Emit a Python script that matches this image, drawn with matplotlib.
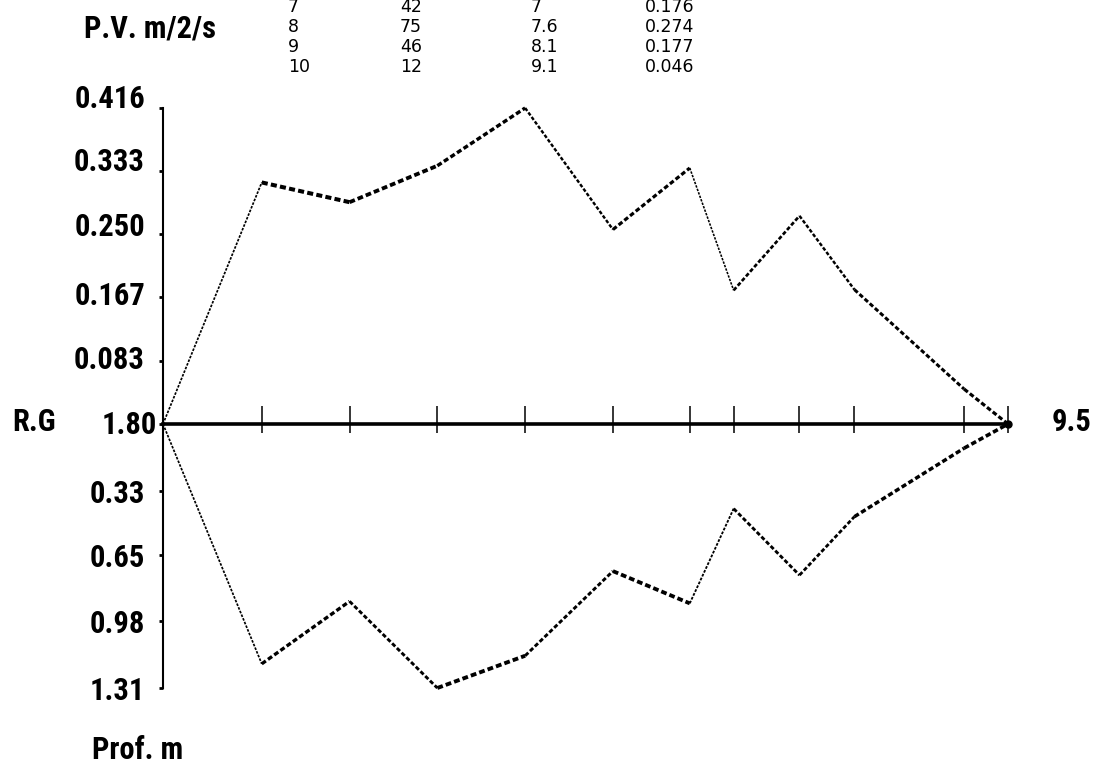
import numpy as np
import matplotlib
matplotlib.use("Agg")
import matplotlib.pyplot as plt
from matplotlib import font_manager
from matplotlib.transforms import ScaledTranslation

# ---------------- data ----------------
depth = [1.8, 2.7, 3.5, 4.3, 5.1, 5.9, 6.6, 7.0, 7.6, 8.1, 9.1, 9.5]
pv = [0.0, 0.318, 0.292, 0.340, 0.416, 0.256, 0.337, 0.176, 0.274, 0.177, 0.046, 0.0]
rg = [0, 119, 88, 131, 115, 73, 89, 42, 75, 46, 12, 0]

pv_ticks = [0.0, 0.083, 0.167, 0.250, 0.333, 0.416]
pv_ticklabels = ["1.80", "0.083", "0.167", "0.250", "0.333", "0.416"]
rg_ticks = [0.33, 0.65, 0.98, 1.31]
rg_ticklabels = ["0.33", "0.65", "0.98", "1.31"]

tbl_idx = ["7", "8", "9", "10"]
tbl_n = ["42", "75", "46", "12"]
tbl_depth = ["7", "7.6", "8.1", "9.1"]
tbl_pv = ["0.176", "0.274", "0.177", "0.046"]

# ---------------- style ----------------
W, H = 1103, 767
names = {f.name for f in font_manager.fontManager.ttflist}
bold_font = [n for n in ["Liberation Sans Narrow", "Roboto Condensed", "DejaVu Sans Mono"] if n in names] + ["DejaVu Sans"]
small_font = ["DejaVu Sans"]
BIG = 22

fig = plt.figure(figsize=(W / 100, H / 100), dpi=100)
fig.patch.set_facecolor("white")


def rect(x0, y0, x1, y1):
    return [x0 / W, 1 - y1 / H, (x1 - x0) / W, (y1 - y0) / H]


ax_top = fig.add_axes(rect(163, 108, 1008, 424))
ax_bot = fig.add_axes(rect(163, 424, 1008, 688))
for ax in (ax_top, ax_bot):
    ax.set_xlim(depth[0], depth[-1])
    ax.set_facecolor("none")
    for s in ("top", "right", "bottom"):
        ax.spines[s].set_visible(False)
    ax.spines["left"].set_linewidth(1.5)
ax_top.set_ylim(0, max(pv_ticks))
ax_bot.set_ylim(max(rg_ticks), 0)

# x axis line (thick)
ax_top.spines["bottom"].set_visible(True)
ax_top.spines["bottom"].set_linewidth(2.6)

# x ticks (above/below)
ax_top.set_xticks(depth[1:])
ax_top.tick_params(axis="x", direction="in", length=13, width=1.1, labelbottom=False)
ax_bot.xaxis.set_ticks_position("top")
ax_bot.set_xticks(depth[1:])
ax_bot.tick_params(axis="x", direction="in", length=6.5, width=1.1, labeltop=False)

# y ticks
ax_top.set_yticks(pv_ticks, pv_ticklabels)
ax_bot.set_yticks(rg_ticks, rg_ticklabels)
for ax in (ax_top, ax_bot):
    ax.tick_params(axis="y", direction="out", length=3, width=2, pad=10)
    for lab in ax.get_yticklabels():
        lab.set_fontfamily(bold_font)
        lab.set_fontweight("bold")
        lab.set_fontsize(BIG)

# small vertical offsets of the upper labels as printed
offs_px = [2, 4, 4, 10, 12, 12]
dx_first = 12
for i, lab in enumerate(ax_top.get_yticklabels()):
    dx = dx_first if i == 0 else 0
    lab.set_transform(lab.get_transform() + ScaledTranslation(dx / 100, offs_px[i] / 100, fig.dpi_scale_trans))


# ---------------- curves ----------------
def draw_curve(ax, xs, ys):
    pts = ax.transData.transform(np.column_stack([xs, ys]))
    for i in range(len(xs) - 1):
        d = pts[i + 1] - pts[i]
        c = abs(d[0]) / (np.hypot(d[0], d[1]) + 1e-9)
        lw = 0.7 + 2.3 * c ** 1.5
        ax.plot(xs[i:i + 2], ys[i:i + 2], color="black", lw=lw,
                linestyle=(0, (1.5, 0.8)), solid_capstyle="butt", clip_on=False)


draw_curve(ax_top, depth, pv)
draw_curve(ax_bot, depth, [v / 100 for v in rg])
ax_top.plot([depth[-1]], [0], "o", color="black", ms=5, clip_on=False)

# ---------------- texts ----------------
def ftext(x, y, s, **kw):
    fig.text(x / W, 1 - y / H, s, **kw)


ftext(12, 422, "R.G", fontfamily=bold_font, fontweight="bold", fontsize=BIG, ha="left", va="center")
ftext(1052, 422, "9.5", fontfamily=bold_font, fontweight="bold", fontsize=BIG, ha="left", va="center")
ftext(84, 28, "P.V. m/2/s", fontfamily=bold_font, fontweight="bold", fontsize=BIG, ha="left", va="center")
ftext(92, 750, "Prof. m", fontfamily=bold_font, fontweight="bold", fontsize=BIG, ha="left", va="center")

row_y = [7, 27, 47, 67]
for i in range(len(tbl_idx)):
    for x, col in zip([288, 400, 531, 645], [tbl_idx, tbl_n, tbl_depth, tbl_pv]):
        ftext(x, row_y[i], col[i], fontfamily=small_font, fontsize=12.5, ha="left", va="center")

fig.savefig("out.png", dpi=100, facecolor="white")
